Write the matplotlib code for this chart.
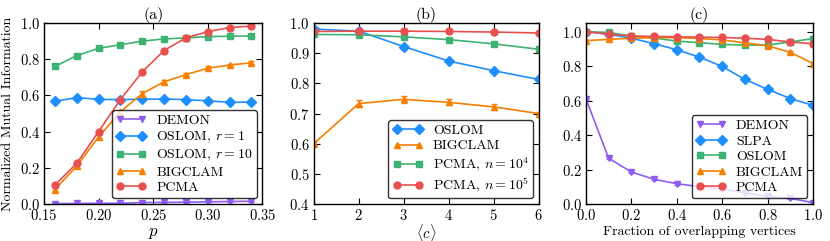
import numpy as np
import matplotlib
matplotlib.use('Agg')
import matplotlib.pyplot as plt

plt.rcParams['font.family'] = 'serif'
plt.rcParams['font.serif'] = ['cmr10', 'DejaVu Serif']
plt.rcParams['mathtext.fontset'] = 'cm'
plt.rcParams['axes.formatter.use_mathtext'] = True
plt.rcParams['xtick.direction'] = 'in'
plt.rcParams['ytick.direction'] = 'in'
plt.rcParams['xtick.top'] = True
plt.rcParams['ytick.right'] = True

purple = '#8f5cf0'
blue = '#1f8fff'
green = '#3cb371'
orange = '#f57f00'
red = '#e8504f'

# panel (a)
p = np.array([0.16, 0.18, 0.20, 0.22, 0.24, 0.26, 0.28, 0.30, 0.32, 0.34])
a_demon = np.array([0.002, 0.003, 0.004, 0.004, 0.008, 0.009, 0.010, 0.012, 0.014, 0.015])
a_oslom1 = np.array([0.567, 0.588, 0.578, 0.577, 0.579, 0.580, 0.577, 0.570, 0.562, 0.563])
a_oslom10 = np.array([0.760, 0.820, 0.860, 0.880, 0.900, 0.912, 0.918, 0.925, 0.927, 0.928])
a_bigclam = np.array([0.080, 0.210, 0.370, 0.510, 0.610, 0.675, 0.715, 0.750, 0.768, 0.780])
a_bigclam_err = np.array([0.01, 0.01, 0.012, 0.012, 0.012, 0.01, 0.01, 0.01, 0.008, 0.008])
a_pcma = np.array([0.105, 0.225, 0.400, 0.577, 0.730, 0.848, 0.918, 0.952, 0.975, 0.983])

# panel (b)
c_avg = np.array([1, 2, 3, 4, 5, 6])
b_oslom = np.array([0.980, 0.973, 0.922, 0.874, 0.842, 0.813])
b_bigclam = np.array([0.600, 0.733, 0.747, 0.737, 0.722, 0.700])
b_bigclam_err = np.array([0.005, 0.012, 0.012, 0.010, 0.010, 0.006])
b_pcma4 = np.array([0.962, 0.961, 0.954, 0.945, 0.931, 0.913])
b_pcma5 = np.array([0.972, 0.973, 0.973, 0.972, 0.970, 0.967])

# panel (c)
frac = np.array([0.0, 0.1, 0.2, 0.3, 0.4, 0.5, 0.6, 0.7, 0.8, 0.9, 1.0])
c_demon = np.array([0.610, 0.265, 0.186, 0.143, 0.118, 0.100, 0.088, 0.065, 0.045, 0.033, 0.008])
c_slpa = np.array([1.000, 0.985, 0.962, 0.930, 0.895, 0.852, 0.798, 0.723, 0.665, 0.612, 0.572])
c_oslom = np.array([1.000, 0.995, 0.975, 0.963, 0.945, 0.936, 0.926, 0.922, 0.922, 0.940, 0.960])
c_bigclam = np.array([0.948, 0.955, 0.962, 0.965, 0.965, 0.960, 0.952, 0.935, 0.918, 0.880, 0.815])
c_pcma = np.array([1.000, 0.985, 0.975, 0.972, 0.970, 0.968, 0.966, 0.962, 0.955, 0.940, 0.930])

fig = plt.figure(figsize=(8.3, 2.41), dpi=100)
ax1 = fig.add_axes([0.053, 0.1535, 0.263, 0.751])
ax2 = fig.add_axes([0.378, 0.1535, 0.271, 0.751])
ax3 = fig.add_axes([0.706, 0.1535, 0.2735, 0.751])

kw = dict(lw=1.2, ms=5, capsize=2, elinewidth=1.0)

ax1.errorbar(p, a_demon, yerr=0.003, color=purple, marker='v', label='DEMON', **kw)
ax1.errorbar(p, a_oslom1, yerr=0.004, color=blue, marker='D', label='OSLOM, $r=1$', **kw)
ax1.errorbar(p, a_oslom10, yerr=0.004, color=green, marker='s', label='OSLOM, $r=10$', **kw)
ax1.errorbar(p, a_bigclam, yerr=a_bigclam_err, color=orange, marker='^', label='BIGCLAM', **kw)
ax1.errorbar(p, a_pcma, yerr=0.004, color=red, marker='o', label='PCMA', **kw)
ax1.set_xlim(0.15, 0.35)
ax1.set_ylim(0.0, 1.0)
ax1.set_xlabel('$p$', fontsize=12, labelpad=2)
ax1.set_ylabel('Normalized Mutual Information', fontsize=10, labelpad=4)
ax1.set_title('(a)', fontsize=11.5, pad=3)

ax2.errorbar(c_avg, b_oslom, yerr=0.003, color=blue, marker='D', label='OSLOM', **kw)
ax2.errorbar(c_avg, b_bigclam, yerr=b_bigclam_err, color=orange, marker='^', label='BIGCLAM', **kw)
ax2.errorbar(c_avg, b_pcma4, yerr=0.003, color=green, marker='s', label='PCMA, $n=10^4$', **kw)
ax2.errorbar(c_avg, b_pcma5, yerr=0.003, color=red, marker='o', label='PCMA, $n=10^5$', **kw)
ax2.set_xlim(1, 6)
ax2.set_ylim(0.4, 1.0)
ax2.set_xlabel(r'$\langle c\rangle$', fontsize=10.5, labelpad=-1)
ax2.set_title('(b)', fontsize=11.5, pad=3)

ax3.errorbar(frac, c_demon, yerr=0.006, color=purple, marker='v', label='DEMON', **kw)
ax3.errorbar(frac, c_slpa, yerr=0.005, color=blue, marker='D', label='SLPA', **kw)
ax3.errorbar(frac, c_oslom, yerr=0.004, color=green, marker='s', label='OSLOM', **kw)
ax3.errorbar(frac, c_bigclam, yerr=0.006, color=orange, marker='^', label='BIGCLAM', **kw)
ax3.errorbar(frac, c_pcma, yerr=0.004, color=red, marker='o', label='PCMA', **kw)
ax3.set_xlim(0.0, 1.0)
ax3.set_ylim(0.0, 1.05)
ax3.set_xlabel('Fraction of overlapping vertices', fontsize=10, labelpad=2)
ax3.set_title('(c)', fontsize=11.5, pad=3)

for ax in (ax1, ax2, ax3):
    ax.tick_params(labelsize=10.5, length=4, width=0.8, pad=3)
    for s in ax.spines.values():
        s.set_linewidth(1.0)
    h, l = ax.get_legend_handles_labels()
    h = [x[0] for x in h]
    leg = ax.legend(h, l, loc='lower right', fontsize=10, numpoints=2, fancybox=True,
                    framealpha=0.8, edgecolor='black', handlelength=2.2,
                    borderpad=0.3, labelspacing=0.2, borderaxespad=0.4, handletextpad=0.7)
    leg.get_frame().set_linewidth(1.0)

fig.savefig('out.png', dpi=100)
